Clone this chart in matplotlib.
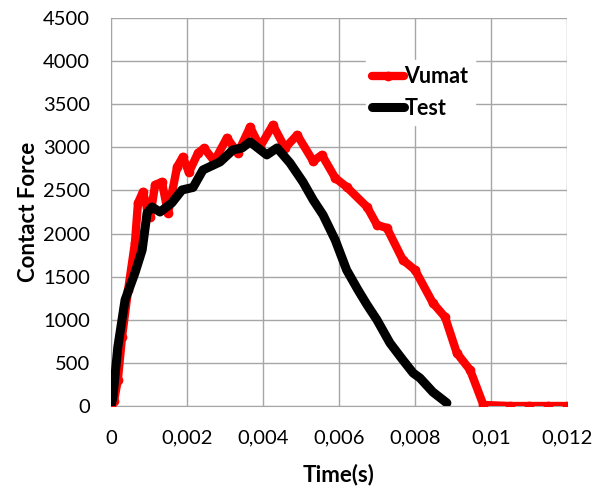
import matplotlib
matplotlib.use("Agg")
import matplotlib.pyplot as plt
from matplotlib.ticker import FuncFormatter

plt.rcParams['font.family'] = ['Lato', 'DejaVu Sans']

# Vumat simulation: time (s) and contact force
vumat_t = [0.0, 0.00008, 0.00018, 0.00029, 0.00045, 0.00063, 0.00071, 0.00084, 0.00095, 0.00103,
           0.00116, 0.00134, 0.0015, 0.00174, 0.00189, 0.00205, 0.00229, 0.00245, 0.00272,
           0.00305, 0.00334, 0.00366, 0.00392, 0.00426, 0.00458, 0.0049, 0.00532, 0.00555,
           0.0059, 0.0062, 0.00674, 0.007, 0.00726, 0.00768, 0.008, 0.00847, 0.00879,
           0.0091, 0.00945, 0.0098, 0.0105, 0.011, 0.0115, 0.012]
vumat_f = [0, 60, 302, 800, 1346, 1891, 2355, 2483, 2300, 2193,
           2564, 2599, 2239, 2773, 2889, 2710, 2935, 2990, 2840,
           3109, 2935, 3237, 3005, 3260, 2993, 3144, 2840, 2912,
           2645, 2541, 2308, 2100, 2065, 1694, 1578, 1195, 1032,
           615, 418, 12, 0, 0, 0, 0]

# Test measurement: time (s) and contact force
test_t = [0.0, 0.00005, 0.00018, 0.00037, 0.00063, 0.00082, 0.00095, 0.00108, 0.00129, 0.0016,
          0.00187, 0.00216, 0.00242, 0.00287, 0.00321, 0.00345, 0.00366, 0.0041, 0.00437,
          0.00471, 0.00505, 0.00532, 0.00558, 0.0059, 0.0062, 0.0065, 0.00674, 0.007,
          0.00734, 0.00768, 0.00795, 0.00813, 0.00847, 0.00884]
test_f = [0, 100, 684, 1230, 1543, 1810, 2239, 2308, 2250, 2355,
          2506, 2535, 2738, 2831, 2970, 2993, 3063, 2912, 2993,
          2819, 2599, 2390, 2216, 1926, 1578, 1346, 1172, 998,
          731, 534, 383, 325, 162, 35]

x_ticks = [0, 0.002, 0.004, 0.006, 0.008, 0.01, 0.012]
y_ticks = list(range(0, 4501, 500))

fig = plt.figure(figsize=(6.03, 4.95), dpi=100)
ax = fig.add_axes([111 / 603, (495 - 406) / 495, (567 - 111) / 603, (406 - 18) / 495])

ax.plot(vumat_t, vumat_f, color='#ff0000', lw=6, marker='o', ms=6,
        solid_capstyle='round', solid_joinstyle='round', label='Vumat', zorder=3)
ax.plot(test_t, test_f, color='black', lw=6.5, solid_capstyle='round',
        solid_joinstyle='round', label='Test', zorder=4)

ax.set_xlim(0, 0.012)
ax.set_ylim(0, 4500)
ax.set_xticks(x_ticks)
ax.set_yticks(y_ticks)


def comma_fmt(v, _pos):
    if v == 0:
        return '0'
    s = ('%.3f' % v).rstrip('0')
    return s.replace('.', ',')


ax.xaxis.set_major_formatter(FuncFormatter(comma_fmt))
ax.grid(True, color='#a6a6a6', lw=1)
ax.set_axisbelow(True)
for side in ['top', 'right']:
    ax.spines[side].set_visible(False)
for side in ['left', 'bottom']:
    ax.spines[side].set_color('#a6a6a6')
ax.tick_params(axis='both', length=0, labelsize=14.5)
ax.tick_params(axis='y', pad=15)
ax.tick_params(axis='x', pad=17)

ax.set_xlabel('Time(s)', fontsize=16, fontweight='bold', labelpad=12)
ax.set_ylabel('Contact Force', fontsize=16, fontweight='bold', labelpad=3)

leg = ax.legend(loc='upper left', bbox_to_anchor=(0.535, 0.92), frameon=True,
                fancybox=False, edgecolor='white', framealpha=1,
                prop={'weight': 'bold', 'size': 15.5}, handlelength=1.5,
                handletextpad=0.0, labelspacing=0.5, borderpad=0.3)

fig.savefig('out.png', dpi=100)
